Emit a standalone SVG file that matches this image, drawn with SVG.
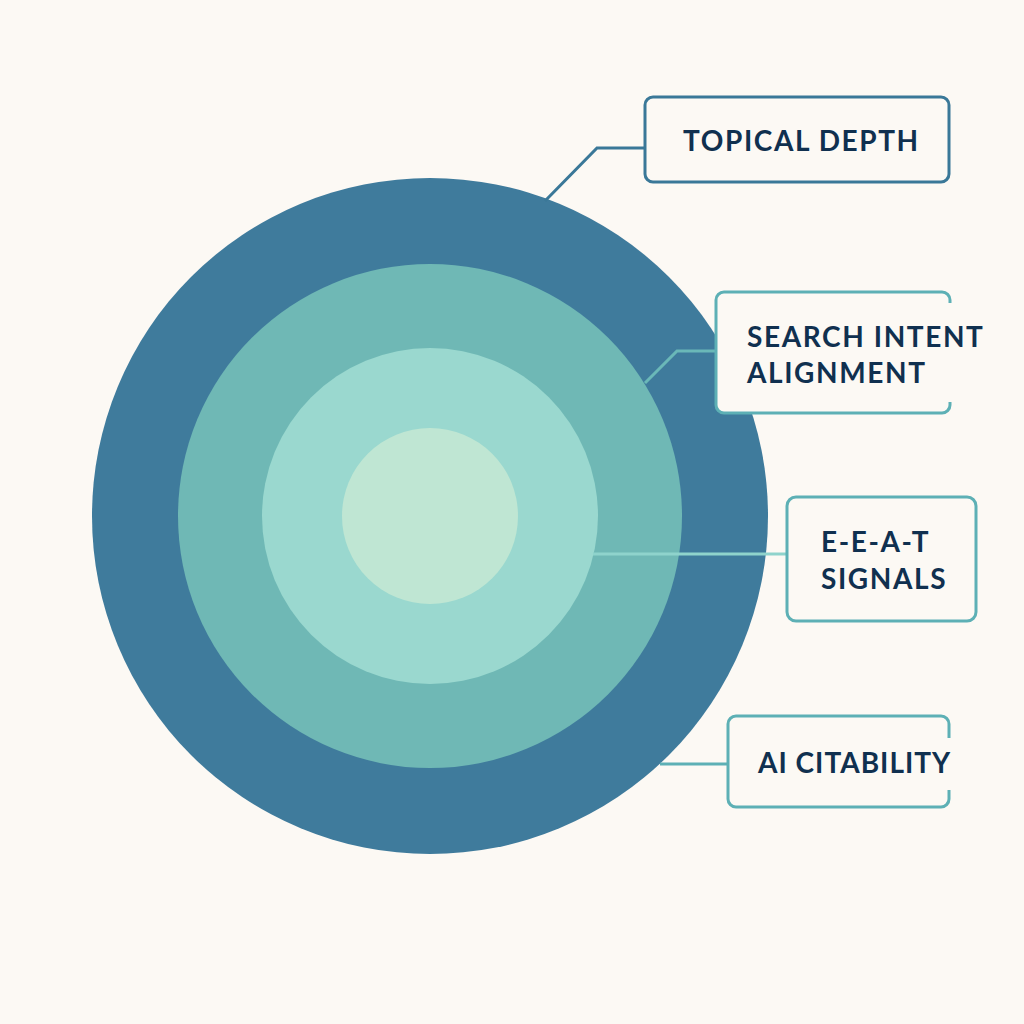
<svg xmlns="http://www.w3.org/2000/svg" width="1024" height="1024" viewBox="0 0 1024 1024">
<style>
.lbl{font-family:Lato,"Noto Sans","Liberation Sans",sans-serif;font-weight:700;font-size:28px;fill:#10304f;letter-spacing:1.6px}
.box{fill:#fcf9f4;stroke-width:3}
.dark{stroke:#3a7898}
.teal{stroke:#5db0b5}
.conn{fill:none;stroke-width:3}
</style>
<rect width="1024" height="1024" fill="#fcf9f4"/>
<g id="rings">
<circle cx="430" cy="516" r="338" fill="#3f7b9c"/>
<circle cx="430" cy="516" r="252" fill="#6fb8b5"/>
<circle cx="430" cy="516" r="168" fill="#9ad8cf"/>
<circle cx="430" cy="516" r="88" fill="#bfe6d3"/>
</g>
<g id="connectors">
<polyline class="conn" points="545,201 597,148 645,148" stroke="#3a7898"/>
<polyline class="conn" points="645,383 677,351 716,351" stroke="#6ab8b8"/>
<line class="conn" x1="593" y1="554" x2="787" y2="554" stroke="#8fd3cc"/>
<line class="conn" x1="660" y1="764" x2="728" y2="764" stroke="#5db0b5"/>
</g>
<g id="node-topical-depth">
<rect class="box dark" x="645" y="97" width="304" height="85" rx="8"/>
<text class="lbl" x="683" y="151">TOPICAL DEPTH</text>
</g>
<g id="node-search-intent">
<path class="box teal" d="M950,303 V300 a8,8 0 0 0 -8,-8 H724 a8,8 0 0 0 -8,8 V405 a8,8 0 0 0 8,8 H942 a8,8 0 0 0 8,-8 V402" fill="#fcf9f4"/>
<text class="lbl" x="747" y="347">SEARCH INTENT</text>
<text class="lbl" x="747" y="383">ALIGNMENT</text>
</g>
<g id="node-eeat">
<rect class="box teal" x="787" y="497" width="189" height="124" rx="9"/>
<text class="lbl" x="821" y="552">E-E-A-T</text>
<text class="lbl" x="821" y="589">SIGNALS</text>
</g>
<g id="node-ai-citability">
<path class="box teal" d="M949,738 V724 a8,8 0 0 0 -8,-8 H736 a8,8 0 0 0 -8,8 V799 a8,8 0 0 0 8,8 H941 a8,8 0 0 0 8,-8 V790" fill="#fcf9f4"/>
<text class="lbl" x="758" y="773" style="letter-spacing:1px">AI CITABILITY</text>
</g>
</svg>
